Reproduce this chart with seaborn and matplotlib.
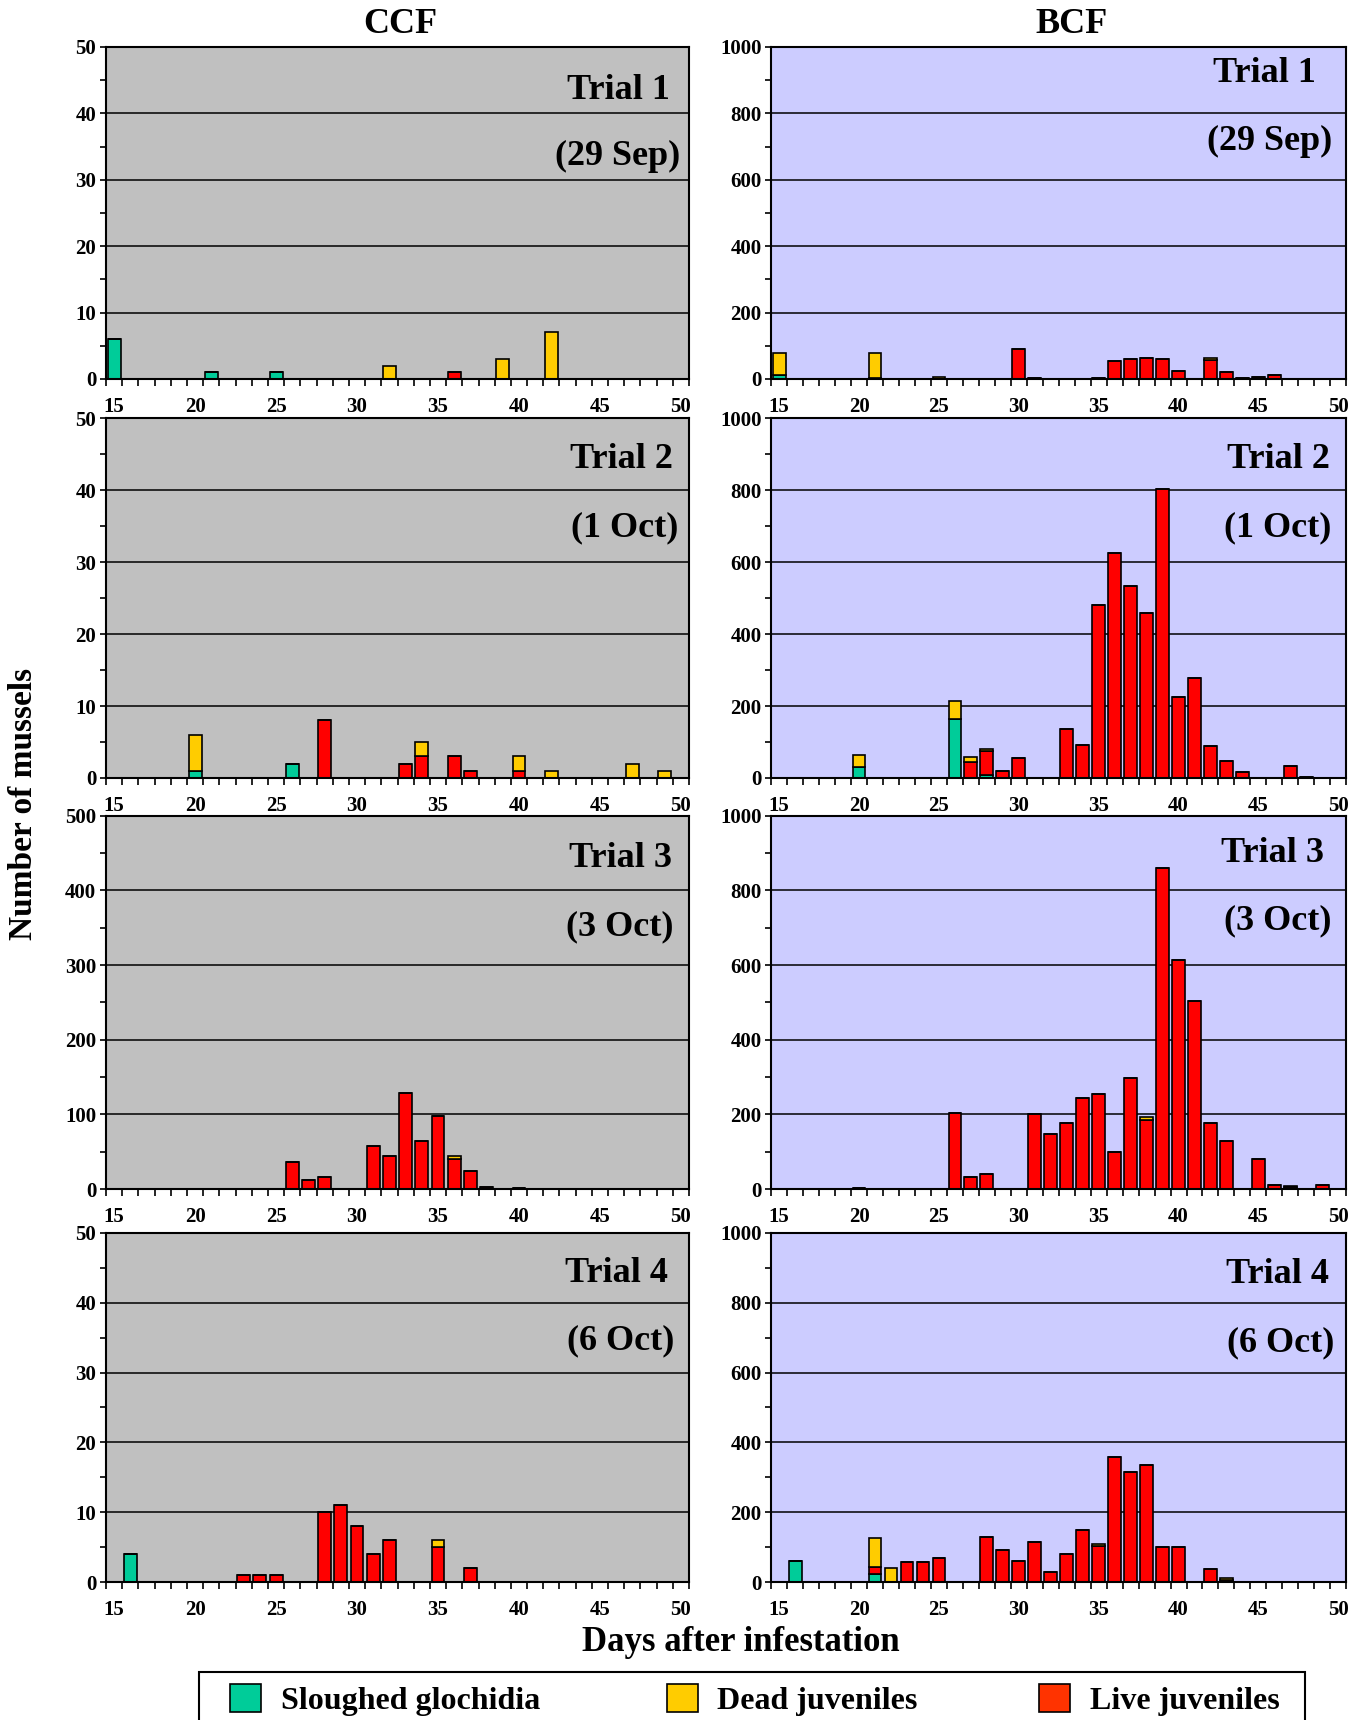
import numpy as np
import pandas as pd
import matplotlib
matplotlib.use("Agg")
import matplotlib.pyplot as plt
import matplotlib.patches as mpatches
import seaborn as sns

# ---------------------------------------------------------------
# DATA : {day after infestation: count}
# ---------------------------------------------------------------
DAYS = list(range(15, 51))
CATEGORIES = ["Sloughed glochidia", "Dead juveniles", "Live juveniles"]
TRIALS = ["Trial 1", "Trial 2", "Trial 3", "Trial 4"]
DATES = ["(29 Sep)", "(1 Oct)", "(3 Oct)", "(6 Oct)"]
CCF_YMAX = [50, 50, 500, 50]
BCF_YMAX = [1000, 1000, 1000, 1000]

CCF_T1_SLOUGHED = {15: 6, 21: 1, 25: 1}
CCF_T1_DEAD = {32: 2, 39: 3, 42: 7}
CCF_T1_LIVE = {36: 1}

CCF_T2_SLOUGHED = {20: 1, 26: 2}
CCF_T2_DEAD = {20: 5, 34: 2, 40: 2, 42: 1, 47: 2, 49: 1}
CCF_T2_LIVE = {28: 8, 33: 2, 34: 3, 36: 3, 37: 1, 40: 1}

CCF_T3_SLOUGHED = {}
CCF_T3_DEAD = {36: 4}
CCF_T3_LIVE = {26: 36, 27: 12, 28: 16, 31: 58, 32: 44, 33: 128, 34: 64,
               35: 98, 36: 40, 37: 24, 38: 3, 40: 1}

CCF_T4_SLOUGHED = {16: 4}
CCF_T4_DEAD = {35: 1}
CCF_T4_LIVE = {23: 1, 24: 1, 25: 1, 28: 10, 29: 11, 30: 8, 31: 4, 32: 6,
               35: 5, 37: 2}

BCF_T1_SLOUGHED = {15: 11}
BCF_T1_DEAD = {15: 67, 21: 76, 25: 7, 42: 4}
BCF_T1_LIVE = {21: 2, 30: 91, 31: 3, 35: 3, 36: 55, 37: 60, 38: 63, 39: 60,
               40: 24, 42: 58, 43: 20, 44: 3, 45: 7, 46: 11}

BCF_T2_SLOUGHED = {20: 30, 26: 165, 28: 8}
BCF_T2_DEAD = {20: 34, 26: 49, 27: 15, 28: 5}
BCF_T2_LIVE = {27: 44, 28: 67, 29: 19, 30: 56, 33: 137, 34: 93, 35: 480,
               36: 626, 37: 533, 38: 460, 39: 804, 40: 226, 41: 279, 42: 88,
               43: 48, 44: 16, 47: 32, 48: 3}

BCF_T3_SLOUGHED = {}
BCF_T3_DEAD = {38: 7, 47: 2}
BCF_T3_LIVE = {20: 3, 26: 205, 27: 31, 28: 39, 31: 202, 32: 148, 33: 177,
               34: 245, 35: 254, 36: 100, 37: 298, 38: 186, 39: 861, 40: 614,
               41: 505, 42: 177, 43: 129, 45: 81, 46: 11, 47: 5, 49: 11}

BCF_T4_SLOUGHED = {16: 60, 21: 24}
BCF_T4_DEAD = {21: 82, 22: 40, 35: 5, 43: 6}
BCF_T4_LIVE = {21: 20, 23: 57, 24: 57, 25: 69, 28: 129, 29: 92, 30: 60,
               31: 116, 32: 28, 33: 81, 34: 150, 35: 104, 36: 359, 37: 315,
               38: 335, 39: 101, 40: 101, 42: 36, 43: 6}

CCF_PANELS = [(CCF_T1_SLOUGHED, CCF_T1_DEAD, CCF_T1_LIVE),
              (CCF_T2_SLOUGHED, CCF_T2_DEAD, CCF_T2_LIVE),
              (CCF_T3_SLOUGHED, CCF_T3_DEAD, CCF_T3_LIVE),
              (CCF_T4_SLOUGHED, CCF_T4_DEAD, CCF_T4_LIVE)]
BCF_PANELS = [(BCF_T1_SLOUGHED, BCF_T1_DEAD, BCF_T1_LIVE),
              (BCF_T2_SLOUGHED, BCF_T2_DEAD, BCF_T2_LIVE),
              (BCF_T3_SLOUGHED, BCF_T3_DEAD, BCF_T3_LIVE),
              (BCF_T4_SLOUGHED, BCF_T4_DEAD, BCF_T4_LIVE)]

# ---------------------------------------------------------------
# STYLE
# ---------------------------------------------------------------
PALETTE = {"Sloughed glochidia": "#00CC99",
           "Dead juveniles": "#FFCC00",
           "Live juveniles": "#FF0000"}
LEGEND_COLORS = ["#00CC99", "#FFCC00", "#FF3300"]
# first hue level ends up on top of the stack in seaborn
STACK_ORDER = ["Dead juveniles", "Live juveniles", "Sloughed glochidia"]
BG = {"CCF": "#C0C0C0", "BCF": "#CCCCFF"}

plt.rcParams["font.family"] = "serif"
plt.rcParams["font.serif"] = ["Liberation Serif", "DejaVu Serif"]
plt.rcParams["font.weight"] = "bold"

# axes rectangles in figure fractions
COL_X = {"CCF": (0.0783, 0.431), "BCF": (0.570, 0.425)}
ROW_Y = [(0.7797, 0.193), (0.5477, 0.209), (0.3087, 0.217), (0.0802, 0.203)]

# (x trial, y trial, x date, y date) in axes fractions
TXT_POS = {
    "CCF": [(0.967, 0.870, 0.985, 0.669), (0.973, 0.886, 0.981, 0.697),
            (0.971, 0.885, 0.974, 0.702), (0.964, 0.883, 0.974, 0.690)],
    "BCF": [(0.948, 0.920, 0.976, 0.715), (0.972, 0.886, 0.974, 0.697),
            (0.962, 0.898, 0.974, 0.718), (0.970, 0.880, 0.980, 0.685)],
}


def panel_frame(sloughed, dead, live):
    rows = []
    for name, d in zip(CATEGORIES, [sloughed, dead, live]):
        for day in DAYS:
            rows.append({"day": day, "type": name, "count": d.get(day, 0)})
    return pd.DataFrame(rows)


fig = plt.figure(figsize=(13.53, 17.20), dpi=100)

for col, panels, ymaxes in [("CCF", CCF_PANELS, CCF_YMAX),
                            ("BCF", BCF_PANELS, BCF_YMAX)]:
    for i, (parts, ymax) in enumerate(zip(panels, ymaxes)):
        x0, w = COL_X[col]
        y0, h = ROW_Y[i]
        ax = fig.add_axes([x0, y0, w, h])
        df = panel_frame(*parts)
        sns.histplot(data=df, x="day", weights="count", hue="type",
                     hue_order=STACK_ORDER, multiple="stack", discrete=True,
                     shrink=0.8, palette=PALETTE, edgecolor="black",
                     linewidth=1.2, alpha=1, legend=False, ax=ax)
        ax.set_facecolor(BG[col])
        ax.set_xlim(14.5, 50.5)
        ax.set_ylim(0, ymax)
        ax.set_xlabel("")
        ax.set_ylabel("")

        ax.set_yticks(np.arange(0, ymax + 1, ymax // 5))
        ax.set_yticks(np.arange(0, ymax + 1, ymax // 10), minor=True)
        ax.set_xticks(range(15, 51, 5))
        ax.set_xticks(np.arange(14.5, 51, 1), minor=True)
        ax.set_xticklabels([str(v) for v in range(15, 51, 5)],
                           fontsize=15, fontweight="bold")
        ax.set_yticklabels([str(v) for v in range(0, ymax + 1, ymax // 5)],
                           fontsize=15, fontweight="bold")
        ax.tick_params(axis="x", which="major", length=0, pad=13)
        ax.tick_params(axis="x", which="minor", length=5, width=1.2,
                       direction="out")
        ax.tick_params(axis="y", which="both", length=4, width=1.2,
                       direction="out", pad=3)

        ax.set_axisbelow(True)
        ax.yaxis.grid(True, which="major", color="black", linewidth=1.1)
        for sp in ax.spines.values():
            sp.set_color("black")
            sp.set_linewidth(1.5)

        xt, yt, xd, yd = TXT_POS[col][i]
        ax.text(xt, yt, TRIALS[i], transform=ax.transAxes, ha="right",
                va="center", fontsize=26, fontweight="bold")
        ax.text(xd, yd, DATES[i], transform=ax.transAxes, ha="right",
                va="center", fontsize=26, fontweight="bold")

# column titles and axis labels
fig.text(0.2956, 0.986, "CCF", ha="center", va="center", fontsize=26,
         fontweight="bold")
fig.text(0.792, 0.986, "BCF", ha="center", va="center", fontsize=26,
         fontweight="bold")
fig.text(0.0177, 0.5326, "Number of mussels", rotation=90, ha="center",
         va="center", fontsize=24, fontweight="bold")
fig.text(0.5477, 0.0448, "Days after infestation", ha="center",
         va="center", fontsize=25, fontweight="bold")

# legend box (cut by the bottom edge like the original)
fig.patches.append(mpatches.Rectangle((0.147, -0.02), 0.8175, 0.0479,
                                      transform=fig.transFigure, fill=False,
                                      edgecolor="black", linewidth=1.5))
for name, c, sx, tx in zip(CATEGORIES, LEGEND_COLORS,
                           [0.170, 0.493, 0.768], [0.2077, 0.530, 0.8056]):
    fig.patches.append(mpatches.Rectangle((sx, 0.0047), 0.0229, 0.0163,
                                          transform=fig.transFigure,
                                          facecolor=c, edgecolor="black",
                                          linewidth=1.2))
    fig.text(tx, 0.0105, name, ha="left", va="center", fontsize=23,
             fontweight="bold")

plt.savefig("out.png", dpi=100)
